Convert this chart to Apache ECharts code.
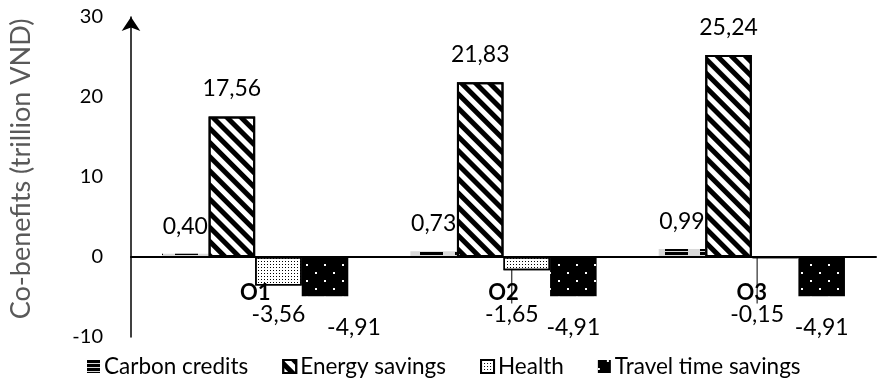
<!DOCTYPE html>
<html><head><meta charset="utf-8">
<script src="https://cdn.jsdelivr.net/npm/echarts@6/dist/echarts.min.js"></script>
<style>html,body{margin:0;padding:0;background:#fff}#c{width:885px;height:380px}</style>
</head><body><div id="c"></div>
<script>
const categories = ['O1', 'O2', 'O3'];
const carbonCredits = [0.40, 0.73, 0.99];
const energySavings = [17.56, 21.83, 25.24];
const health = [-3.56, -1.65, -0.15];
const travelTimeSavings = [-4.91, -4.91, -4.91];
const seriesNames = ['Carbon credits', 'Energy savings', 'Health', 'Travel time savings'];
const yAxisName = 'Co-benefits (trillion VND)';

// styling only (manual label nudges as in the reference)
const healthLabelDx = [0, -15, -18];
const healthLeader = [false, true, true];
const travelLabelDx = [29, 0, 0];

const FONT = 'Lato';
const fmt = p => Number(p.value).toFixed(2).replace('.', ',');
const labelBase = { show: true, formatter: fmt, fontFamily: FONT, fontSize: 23, color: '#000' };

const chart = echarts.init(document.getElementById('c'));
chart.setOption({
  animation: false,
  textStyle: { fontFamily: FONT },
  grid: { left: 128, right: 9, top: 17, bottom: 43, containLabel: false },
  legend: {
    data: seriesNames,
    left: 87, top: 355, padding: 0,
    itemWidth: 13, itemHeight: 13, itemGap: 34,
    icon: 'rect',
    textStyle: { fontFamily: FONT, fontSize: 22.5, color: '#000', padding: [0, 0, 0, -1] }
  },
  xAxis: {
    type: 'category', data: categories, z: 10,
    axisLine: { onZero: true, lineStyle: { color: '#000', width: 2 } },
    axisTick: { show: false },
    axisLabel: { fontFamily: FONT, fontSize: 22, fontWeight: 'bold', color: '#000', margin: -55 }
  },
  yAxis: {
    type: 'value', min: -10, max: 30, interval: 10,
    name: yAxisName, nameLocation: 'middle', nameGap: 96,
    nameTextStyle: { fontFamily: FONT, fontSize: 27, color: '#595959', padding: [0, 0, 0, 16] },
    axisLine: { show: true, symbol: ['none', 'arrow'], symbolSize: [14, 14], lineStyle: { color: '#000', width: 1.5 } },
    axisTick: { show: false },
    splitLine: { show: false },
    axisLabel: { fontFamily: FONT, fontSize: 20, color: '#000', margin: 28 }
  },
  series: [
    {
      name: seriesNames[0], type: 'bar', data: carbonCredits,
      barGap: '0%', barCategoryGap: '25%',
      itemStyle: { color: '#d9d9d9',
        decal: { symbol: 'rect', symbolSize: 1, color: '#000', dashArrayX: [23, 12], dashArrayY: [3, 1] } },
      label: Object.assign({}, labelBase, { position: 'top', distance: 16 })
    },
    {
      name: seriesNames[1], type: 'bar', data: energySavings,
      itemStyle: { color: '#fff', borderColor: '#000', borderWidth: 2,
        decal: { symbol: 'rect', symbolSize: 1, color: '#000', dashArrayX: [1, 0], dashArrayY: [5, 5], rotation: Math.PI / 4 } },
      label: Object.assign({}, labelBase, { position: 'top', distance: 16 })
    },
    {
      name: seriesNames[2], type: 'bar',
      data: health.map((v, i) => ({ value: v, labelLine: { show: healthLeader[i] } })),
      itemStyle: { color: '#fff', borderColor: '#000', borderWidth: 1.5,
        decal: { symbol: 'rect', symbolSize: 1, color: '#000', dashArrayX: [1, 2], dashArrayY: [1, 2] } },
      label: Object.assign({}, labelBase, { position: 'bottom', distance: 20 }),
      labelLine: { show: false, lineStyle: { color: '#000', width: 1 } },
      labelLayout: p => ({ y: 315, align: 'center', verticalAlign: 'middle', dx: healthLabelDx[p.dataIndex] })
    },
    {
      name: seriesNames[3], type: 'bar', data: travelTimeSavings,
      itemStyle: { color: '#000',
        decal: { symbol: 'rect', symbolSize: 1, color: '#fff', dashArrayX: [[2, 16], [0, 9, 2, 7]], dashArrayY: [2, 6] } },
      label: Object.assign({}, labelBase, { position: 'bottom', distance: 20 }),
      labelLayout: p => ({ dx: travelLabelDx[p.dataIndex] })
    }
  ]
});
</script></body></html>
